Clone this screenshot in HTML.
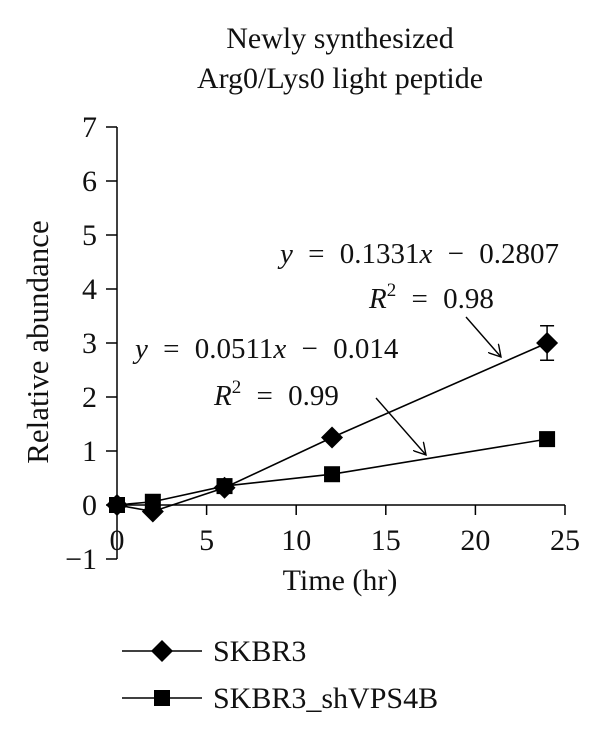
<!DOCTYPE html>
<html><head><meta charset="utf-8"><style>
body{margin:0;background:#fff}
svg text{font-family:"Liberation Serif",serif;fill:#111}
</style></head><body>
<svg width="600" height="733" viewBox="0 0 600 733" xmlns="http://www.w3.org/2000/svg" style="position:absolute;left:0;top:0">
<g id="plot"></g>
</svg>
<script>
const xTicks=[0,5,10,15,20,25];
const yTicks=[-1,0,1,2,3,4,5,6,7];
const times=[0,2,6,12,24];
const skbr3=[0,-0.12,0.32,1.25,3.0];
const skbr3Err=[0,0,0,0,0.32];
const shvps=[0,0.06,0.35,0.57,1.22];
const X0=117,X1=565,Y0=505,YU=54;
const sx=v=>X0+(X1-X0)*v/25;
const sy=v=>Y0-v*YU;
const NS="http://www.w3.org/2000/svg";
const g=document.getElementById('plot');
function mk(t,a,txt){const e=document.createElementNS(NS,t);for(const k in a)e.setAttribute(k,a[k]);if(txt!==undefined)e.textContent=txt;g.appendChild(e);return e;}
let e;
e=mk('line',{x1:X0,y1:sy(7),x2:X0,y2:sy(-1),stroke:'#000','stroke-width':1.5});


e=mk('line',{x1:X0,y1:Y0,x2:X1,y2:Y0,stroke:'#000','stroke-width':1.5});


yTicks.forEach(v=>{
 mk('line',{x1:X0-11,y1:sy(v),x2:X0,y2:sy(v),stroke:'#000','stroke-width':1.5});
 e=mk('text',{x:97,y:sy(v)+10,'text-anchor':'end','font-size':30},v<0?'\u2212'+(-v):String(v));
 
 
});
xTicks.forEach(v=>{
 mk('line',{x1:sx(v),y1:Y0,x2:sx(v),y2:Y0+10,stroke:'#000','stroke-width':1.5});
 e=mk('text',{x:sx(v),y:550,'text-anchor':'middle','font-size':30},String(v));
 
 
});
function poly(vals,name){
 e=mk('polyline',{points:times.map((t,i)=>sx(t)+','+sy(vals[i])).join(' '),fill:'none',stroke:'#000','stroke-width':1.6});
 
 
}
poly(shvps,'line-skbr3-shvps4b');
poly(skbr3,'line-skbr3');
times.forEach((t,i)=>{
 if(skbr3Err[i]>0){
  const x=sx(t),a=sy(skbr3[i]+skbr3Err[i]),b=sy(skbr3[i]-skbr3Err[i]);
  e=mk('path',{d:`M${x},${a}V${b}M${x-7},${a}H${x+7}M${x-7},${b}H${x+7}`,stroke:'#000','stroke-width':1.5,fill:'none'});
  
  
 }
 e=mk('rect',{x:sx(t)-8,y:sy(shvps[i])-8,width:16,height:16,fill:'#000'});
 
 
 const x=sx(t),y=sy(skbr3[i]);
 e=mk('path',{d:`M${x},${y-11}L${x+11},${y}L${x},${y+11}L${x-11},${y}Z`,fill:'#000'});
 
 
});
</script>
<svg style="position:absolute;left:0;top:0" width="600" height="733" xmlns="http://www.w3.org/2000/svg">
<defs><marker id="ah" markerWidth="14" markerHeight="14" refX="12" refY="7" orient="auto" markerUnits="userSpaceOnUse"><path d="M0,0L12,7L0,14" fill="none" stroke="#000" stroke-width="1.4"/></marker></defs>
<text x="340" y="48" text-anchor="middle" font-size="30">Newly synthesized</text>
<text x="340" y="88" text-anchor="middle" font-size="30">Arg0/Lys0 light peptide</text>
<text transform="translate(48,342) rotate(-90)" text-anchor="middle" font-size="31">Relative abundance</text>
<text x="340" y="590" text-anchor="middle" font-size="30">Time (hr)</text>
<text x="280" y="263" font-size="29" word-spacing="8"><tspan font-style="italic">y</tspan> = 0.1331<tspan font-style="italic">x</tspan> − 0.2807</text>
<text x="369" y="308" font-size="29" word-spacing="8"><tspan font-style="italic">R</tspan><tspan dy="-12" font-size="19">2</tspan><tspan dy="12"> = 0.98</tspan></text>
<text x="135" y="358" font-size="29" word-spacing="8"><tspan font-style="italic">y</tspan> = 0.0511<tspan font-style="italic">x</tspan> − 0.014</text>
<text x="214" y="405" font-size="29" word-spacing="8"><tspan font-style="italic">R</tspan><tspan dy="-12" font-size="19">2</tspan><tspan dy="12"> = 0.99</tspan></text>
<line x1="466" y1="317" x2="501" y2="357" stroke="#000" stroke-width="1.4" marker-end="url(#ah)"/>
<line x1="376" y1="398" x2="426" y2="455" stroke="#000" stroke-width="1.4" marker-end="url(#ah)"/>
<g>
<line x1="122" y1="651" x2="202" y2="651" stroke="#000" stroke-width="1.6"/>
<path d="M162,640L173,651L162,662L151,651Z" fill="#000"/>
<text x="213" y="661" font-size="30">SKBR3</text></g>
<g>
<line x1="122" y1="698" x2="202" y2="698" stroke="#000" stroke-width="1.6"/>
<rect x="154" y="690" width="16" height="16" fill="#000"/>
<text x="213" y="708" font-size="30">SKBR3_shVPS4B</text></g>
</svg>
</body></html>
